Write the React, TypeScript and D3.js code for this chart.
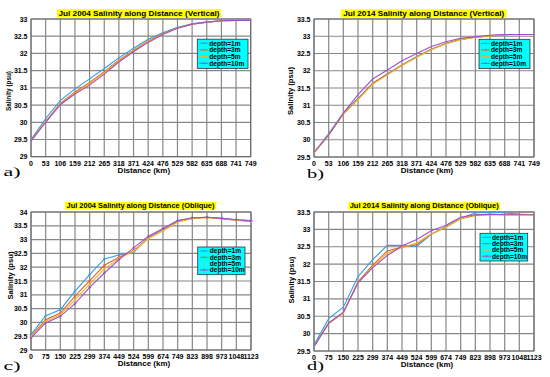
import * as d3 from "d3";

const DEPTHS = ["depth=1m", "depth=3m", "depth=5m", "depth=10m"];
const COLORS = ["#2f9fe4", "#e2642c", "#efb22a", "#9d52c6"];

const DIST_VERTICAL = ["0", "53", "106", "159", "212", "265", "318", "371", "424", "476", "529", "582", "635", "688", "741", "749"];
const DIST_OBLIQUE = ["0", "75", "150", "225", "299", "374", "449", "524", "599", "674", "749", "823", "898", "973", "1048", "1123"];

const TICKS_29_33 = [29, 29.5, 30, 30.5, 31, 31.5, 32, 32.5, 33];
const TICKS_295_335 = [29.5, 30, 30.5, 31, 31.5, 32, 32.5, 33, 33.5];
const TICKS_29_34 = [29, 29.5, 30, 30.5, 31, 31.5, 32, 32.5, 33, 33.5, 34];

// a) Jul 2004 vertical
const V2004_1M = [29.5, 30.11, 30.63, 30.97, 31.26, 31.56, 31.87, 32.15, 32.41, 32.6, 32.76, 32.86, 32.91, 32.95, 32.96, 32.96];
const V2004_3M = [29.47, 30.03, 30.55, 30.88, 31.16, 31.47, 31.8, 32.09, 32.36, 32.57, 32.74, 32.85, 32.91, 32.95, 32.96, 32.96];
const V2004_5M = [29.46, 30.01, 30.53, 30.85, 31.12, 31.44, 31.78, 32.07, 32.34, 32.56, 32.74, 32.85, 32.91, 32.95, 32.96, 32.96];
const V2004_10M = [29.45, 30.0, 30.51, 30.82, 31.08, 31.4, 31.75, 32.05, 32.32, 32.55, 32.73, 32.85, 32.91, 32.95, 32.96, 32.96];

// b) Jul 2014 vertical
const V2014_1M = [29.62, 30.18, 30.77, 31.2, 31.64, 31.91, 32.17, 32.41, 32.62, 32.79, 32.91, 32.97, 33.01, 33.04, 33.05, 33.05];
const V2014_3M = [29.62, 30.15, 30.75, 31.18, 31.63, 31.9, 32.16, 32.4, 32.62, 32.79, 32.91, 32.97, 33.01, 33.05, 33.05, 33.05];
const V2014_5M = [29.62, 30.14, 30.74, 31.16, 31.61, 31.88, 32.15, 32.39, 32.61, 32.78, 32.9, 32.97, 33.01, 33.04, 33.05, 33.05];
const V2014_10M = [29.63, 30.13, 30.77, 31.31, 31.76, 32.02, 32.29, 32.5, 32.7, 32.84, 32.94, 32.99, 33.03, 33.05, 33.05, 33.05];

// c) Jul 2004 oblique
const O2004_1M = [29.56, 30.24, 30.46, 31.13, 31.73, 32.3, 32.44, 32.53, 33.08, 33.38, 33.68, 33.78, 33.81, 33.77, 33.72, 33.69];
const O2004_3M = [29.5, 30.1, 30.34, 30.95, 31.51, 32.07, 32.36, 32.6, 33.05, 33.33, 33.65, 33.77, 33.8, 33.76, 33.7, 33.66];
const O2004_5M = [29.48, 30.04, 30.28, 30.82, 31.39, 31.93, 32.32, 32.58, 33.04, 33.32, 33.64, 33.77, 33.8, 33.76, 33.7, 33.65];
const O2004_10M = [29.44, 29.98, 30.22, 30.68, 31.27, 31.79, 32.28, 32.7, 33.12, 33.4, 33.69, 33.79, 33.81, 33.77, 33.72, 33.68];

// d) Jul 2014 oblique
const O2014_1M = [29.67, 30.43, 30.76, 31.64, 32.13, 32.54, 32.54, 32.51, 32.86, 33.08, 33.33, 33.47, 33.5, 33.47, 33.44, 33.42];
const O2014_3M = [29.62, 30.31, 30.6, 31.49, 31.97, 32.38, 32.49, 32.56, 32.87, 33.06, 33.31, 33.4, 33.42, 33.42, 33.42, 33.42];
const O2014_5M = [29.62, 30.29, 30.59, 31.47, 31.93, 32.32, 32.48, 32.61, 32.87, 33.07, 33.31, 33.42, 33.43, 33.42, 33.42, 33.42];
const O2014_10M = [29.63, 30.3, 30.62, 31.46, 31.9, 32.25, 32.52, 32.71, 32.96, 33.12, 33.35, 33.42, 33.44, 33.42, 33.42, 33.42];

const FONT = "'Liberation Sans', Arial, sans-serif";

interface PanelProps {
  title: string;
  letter: string;
  cats: string[];
  series: number[][];
  ticks: number[];
  box: { l: number; r: number; t: number; b: number };
  titleBox: { l: number; r: number; t: number; b: number; w: number };
  legend: { l: number; r: number; t: number; row: number };
  yLabel: { x: number; y: number; w: number };
  letterPos: { x: number; y: number };
  markers?: boolean;
}

function Panel(p: PanelProps) {
  const { box } = p;
  const x = d3.scalePoint<number>().domain(d3.range(p.cats.length)).range([box.l, box.r]);
  const y = d3.scaleLinear().domain([p.ticks[0], p.ticks[p.ticks.length - 1]]).range([box.b, box.t]);
  const line = d3
    .line<number>()
    .x((_, i) => x(i)!)
    .y((d) => y(d));
  const cx = (box.l + box.r) / 2;
  const tcx = (p.titleBox.l + p.titleBox.r) / 2;
  const lg = p.legend;

  return (
    <g>
      <rect x={box.l} y={box.t} width={box.r - box.l} height={box.b - box.t} fill="#fff" />
      {/* grid */}
      {p.cats.map((_, i) => (
        <line key={"gx" + i} x1={x(i)} x2={x(i)} y1={box.t} y2={box.b} stroke="#878787" strokeWidth={1.2} />
      ))}
      {p.ticks.map((t) => (
        <line key={"gy" + t} x1={box.l} x2={box.r} y1={y(t)} y2={y(t)} stroke="#878787" strokeWidth={1.2} />
      ))}
      <rect x={box.l} y={box.t} width={box.r - box.l} height={box.b - box.t} fill="none" stroke="#666" strokeWidth={1} />

      {/* series */}
      {p.series.map((s, k) => (
        <g key={"s" + k}>
          <path d={line(s) || ""} fill="none" stroke={COLORS[k]} strokeWidth={1.1} />
          {p.markers &&
            s.map((v, i) => (
              <path
                key={i}
                d={`M${x(i)! - 1.3},${y(v)}h2.6M${x(i)},${y(v) - 1.3}v2.6`}
                stroke={COLORS[k]}
                strokeWidth={1}
              />
            ))}
        </g>
      ))}

      {/* tick labels */}
      {p.cats.map((c, i) => (
        <text key={"tx" + i} x={x(i)} y={box.b + 8.8} fontSize={7} fontWeight="bold" textAnchor="middle" fontFamily={FONT}>
          {c}
        </text>
      ))}
      {p.ticks.map((t) => (
        <text key={"ty" + t} x={box.l - 3.5} y={y(t) + 2.5} fontSize={7} fontWeight="bold" textAnchor="end" fontFamily={FONT}>
          {String(t)}
        </text>
      ))}

      {/* axis labels */}
      <text x={cx + 3} y={box.b + 16} fontSize={8} fontWeight="bold" textAnchor="middle" fontFamily={FONT}>
        Distance (km)
      </text>
      <text
        transform={`translate(${p.yLabel.x},${p.yLabel.y}) rotate(-90)`}
        fontSize={7}
        fontWeight="bold"
        textAnchor="middle"
        fontFamily={FONT}
        textLength={p.yLabel.w}
        lengthAdjust="spacingAndGlyphs"
        dy={2.5}
      >
        Salinity (psu)
      </text>

      {/* title */}
      <rect
        x={p.titleBox.l}
        y={p.titleBox.t}
        width={p.titleBox.r - p.titleBox.l}
        height={p.titleBox.b - p.titleBox.t}
        fill="#ffff00"
      />
      <text
        x={tcx}
        y={p.titleBox.b - 1.6}
        fontSize={8}
        fontWeight="bold"
        textAnchor="middle"
        fontFamily={FONT}
        textLength={p.titleBox.w}
        lengthAdjust="spacingAndGlyphs"
      >
        {p.title}
      </text>

      {/* legend */}
      <rect x={lg.l} y={lg.t} width={lg.r - lg.l} height={lg.row * 4 + 2.5} fill="#00ffff" stroke="#333" strokeWidth={0.8} />
      {DEPTHS.map((d, k) => {
        const ry = lg.t + 4 + k * lg.row;
        return (
          <g key={d}>
            <line x1={lg.l + 2} x2={lg.l + 11} y1={ry} y2={ry} stroke={COLORS[k]} strokeWidth={1} />
            <path d={`M${lg.l + 5.5},${ry}h2M${lg.l + 6.5},${ry - 1}v2`} stroke={COLORS[k]} strokeWidth={0.8} />
            <text x={lg.l + 12} y={ry + 2.3} fontSize={6.6} fontWeight="bold" fontFamily={FONT}>
              {d}
            </text>
          </g>
        );
      })}

      {/* panel letter */}
      <text
        x={p.letterPos.x}
        y={p.letterPos.y}
        fontSize={11.5}
        fontFamily="'Liberation Serif', 'Times New Roman', serif"
        textLength={17}
        lengthAdjust="spacingAndGlyphs"
      >
        {p.letter}
      </text>
    </g>
  );
}

export default function App() {
  return (
    <svg width={550} height={377} style={{ position: "absolute", left: 0, top: 0, background: "#fff" }}>
      <rect width={550} height={377} fill="#fff" />
      <Panel
        title="Jul 2004 Salinity along Distance (Vertical)"
        letter="a)"
        cats={DIST_VERTICAL}
        series={[V2004_1M, V2004_3M, V2004_5M, V2004_10M]}
        ticks={TICKS_29_33}
        box={{ l: 31, r: 250.7, t: 19, b: 156.7 }}
        titleBox={{ l: 57, r: 221, t: 9.2, b: 17.7, w: 161 }}
        legend={{ l: 197.3, r: 248, t: 39.2, row: 6.7 }}
        yLabel={{ x: 8.5, y: 91, w: 40 }}
        letterPos={{ x: 3.5, y: 176 }}
      />
      <Panel
        title="Jul 2014 Salinity along Distance (Vertical)"
        letter="b)"
        cats={DIST_VERTICAL}
        series={[V2014_1M, V2014_3M, V2014_5M, V2014_10M]}
        ticks={TICKS_295_335}
        box={{ l: 314, r: 534, t: 19, b: 157 }}
        titleBox={{ l: 340.7, r: 506.7, t: 9.3, b: 17.7, w: 161 }}
        legend={{ l: 479, r: 530, t: 39.3, row: 6.7 }}
        yLabel={{ x: 290.7, y: 91, w: 48 }}
        letterPos={{ x: 307, y: 177.5 }}
      />
      <Panel
        title="Jul 2004 Salinity along Distance (Oblique)"
        letter="c)"
        cats={DIST_OBLIQUE}
        series={[O2004_1M, O2004_3M, O2004_5M, O2004_10M]}
        ticks={TICKS_29_34}
        box={{ l: 31, r: 251, t: 212, b: 350 }}
        titleBox={{ l: 65, r: 216, t: 202, b: 209.7, w: 148 }}
        legend={{ l: 197.7, r: 245, t: 247, row: 6.3 }}
        yLabel={{ x: 10, y: 275.5, w: 48 }}
        letterPos={{ x: 3.5, y: 369.5 }}
        markers
      />
      <Panel
        title="Jul 2014 Salinity along Distance (Oblique)"
        letter="d)"
        cats={DIST_OBLIQUE}
        series={[O2014_1M, O2014_3M, O2014_5M, O2014_10M]}
        ticks={TICKS_295_335}
        box={{ l: 314, r: 534, t: 212, b: 351 }}
        titleBox={{ l: 348.3, r: 500, t: 202.3, b: 209.7, w: 149 }}
        legend={{ l: 480, r: 527.7, t: 233.3, row: 6.3 }}
        yLabel={{ x: 291.7, y: 280, w: 47 }}
        letterPos={{ x: 307, y: 370 }}
      />
    </svg>
  );
}
